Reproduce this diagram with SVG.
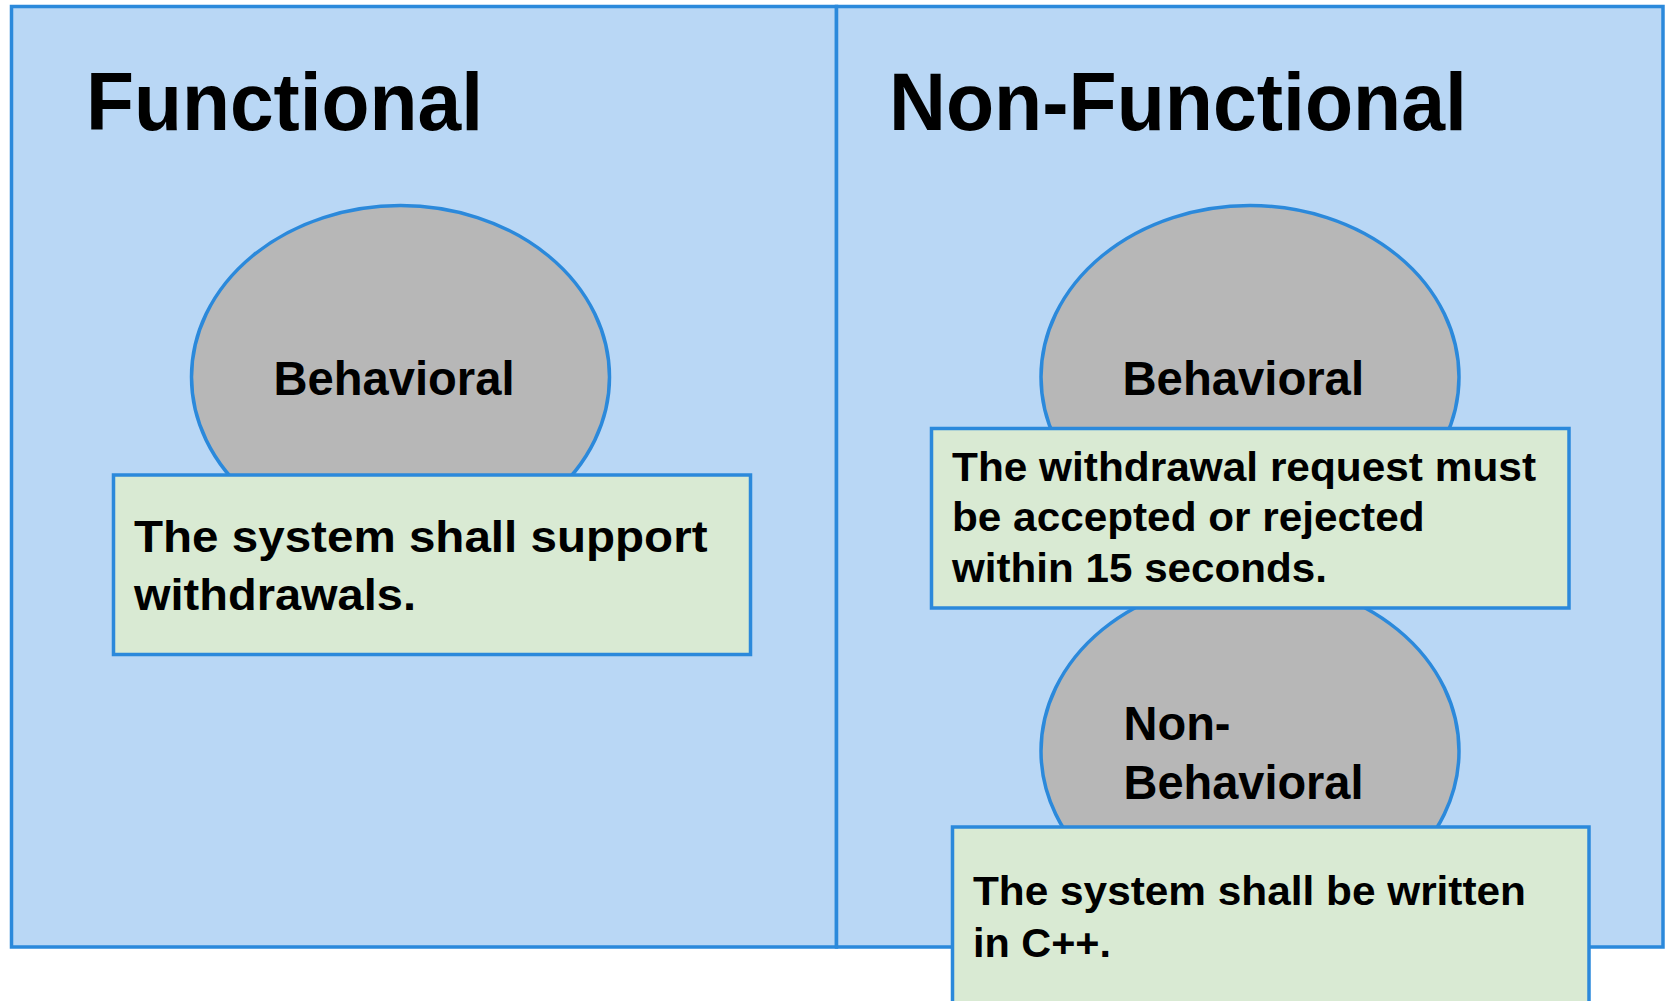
<svg xmlns="http://www.w3.org/2000/svg" width="1667" height="1001" viewBox="0 0 1667 1001">
  <style>
    .frame { fill: #b9d7f5; stroke: #2b89db; stroke-width: 3.5; }
    .blob { fill: #b7b7b7; stroke: #2b89db; stroke-width: 3.5; }
    .note { fill: #d9ead3; stroke: #2b89db; stroke-width: 3.5; }
    text { font-family: "Liberation Sans", Arial, sans-serif; font-weight: bold; fill: #000; }
    .title { font-size: 82px; }
    .label { font-size: 48px; }
    .big { font-size: 45px; }
    .small { font-size: 41px; }
  </style>
  <rect width="1667" height="1001" fill="#ffffff"/>

  <!-- Functional panel -->
  <g id="panel-functional">
    <rect class="frame" x="11.5" y="6.5" width="825" height="940.5"/>
    <text class="title" x="86" y="130" textLength="397" lengthAdjust="spacingAndGlyphs">Functional</text>
  </g>

  <!-- Non-Functional panel -->
  <g id="panel-nonfunctional">
    <rect class="frame" x="836.5" y="6.5" width="826.5" height="940.5"/>
    <text class="title" x="889" y="130" textLength="578" lengthAdjust="spacingAndGlyphs">Non-Functional</text>
  </g>

  <!-- Functional / Behavioral -->
  <g id="func-behavioral">
    <ellipse class="blob" cx="400.5" cy="377" rx="209" ry="171.5"/>
    <text class="label" x="273.5" y="395" textLength="241" lengthAdjust="spacingAndGlyphs">Behavioral</text>
  </g>
  <g id="func-example">
    <rect class="note" x="113.5" y="475" width="637" height="179.5"/>
    <text class="big" x="134" y="551.5" textLength="573.5" lengthAdjust="spacingAndGlyphs">The system shall support</text>
    <text class="big" x="134" y="609.5" textLength="282" lengthAdjust="spacingAndGlyphs">withdrawals.</text>
  </g>

  <!-- Non-Functional / Behavioral -->
  <g id="nonfunc-behavioral">
    <ellipse class="blob" cx="1250" cy="377" rx="209" ry="171.5"/>
    <text class="label" x="1122.5" y="395" textLength="241.5" lengthAdjust="spacingAndGlyphs">Behavioral</text>
  </g>

  <!-- Non-Functional / Non-Behavioral -->
  <g id="nonfunc-nonbehavioral">
    <ellipse class="blob" cx="1250" cy="751" rx="209" ry="171.5"/>
    <text class="label" x="1123.5" y="740" textLength="107" lengthAdjust="spacingAndGlyphs">Non-</text>
    <text class="label" x="1123.5" y="799" textLength="240" lengthAdjust="spacingAndGlyphs">Behavioral</text>
  </g>

  <g id="nonfunc-behavioral-example">
    <rect class="note" x="931.5" y="428.5" width="637.5" height="179.5"/>
    <text class="small" x="952" y="480.5" textLength="584" lengthAdjust="spacingAndGlyphs">The withdrawal request must</text>
    <text class="small" x="952" y="531" textLength="472.5" lengthAdjust="spacingAndGlyphs">be accepted or rejected</text>
    <text class="small" x="952" y="581.5" textLength="375" lengthAdjust="spacingAndGlyphs">within 15 seconds.</text>
  </g>

  <g id="nonfunc-nonbehavioral-example">
    <rect class="note" x="952.5" y="827" width="636.5" height="190"/>
    <text class="small" x="973" y="905" textLength="553" lengthAdjust="spacingAndGlyphs">The system shall be written</text>
    <text class="small" x="973" y="957" textLength="138" lengthAdjust="spacingAndGlyphs">in C++.</text>
  </g>
</svg>
